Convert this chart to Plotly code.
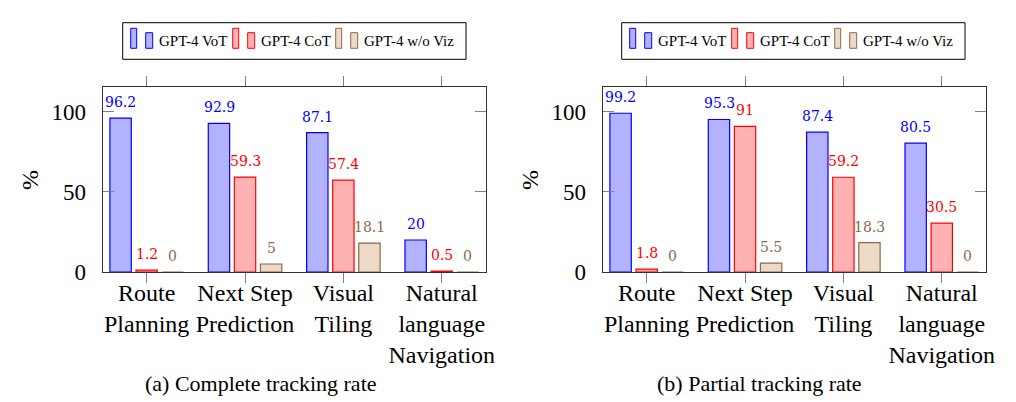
import plotly.graph_objects as go

categories = ["Route<br>Planning", "Next Step<br>Prediction", "Visual<br>Tiling",
              "Natural<br>language<br>Navigation"]
series_names = ["GPT-4 VoT", "GPT-4 CoT", "GPT-4 w/o Viz"]

complete_vot = [96.2, 92.9, 87.1, 20]
complete_cot = [1.2, 59.3, 57.4, 0.5]
complete_noviz = [0, 5, 18.1, 0]

partial_vot = [99.2, 95.3, 87.4, 80.5]
partial_cot = [1.8, 91, 59.2, 30.5]
partial_noviz = [0, 5.5, 18.3, 0]

captions = ["(a) Complete tracking rate", "(b) Partial tracking rate"]
y_ticks = [0, 50, 100]

fills = ["rgb(178,178,255)", "rgb(255,178,178)", "rgb(236,217,198)"]
lines = ["rgb(0,0,255)", "rgb(255,0,0)", "rgb(140,105,75)"]

SERIF = "Liberation Serif"
PAGE_OFF = 8          # browser body margin
W, H = 1016 - PAGE_OFF, 402 - PAGE_OFF


def px(x):
    return (x - PAGE_OFF) / W


def py(y):
    return 1 - (y - PAGE_OFF) / H


fig = go.Figure()

panels = [
    ([complete_vot, complete_cot, complete_noviz], "x", "y"),
    ([partial_vot, partial_cot, partial_noviz], "x2", "y2"),
]
BAR_STEP = 26  # px between bar centres within a group
for vals, xa, ya in panels:
    for k, v in enumerate(vals):
        fig.add_trace(go.Bar(
            x=categories, y=v, name=series_names[k], xaxis=xa, yaxis=ya,
            showlegend=False,
            marker=dict(color=fills[k], line=dict(color=lines[k], width=1.2)),
        ))
        for c, val in zip(categories, v):
            fig.add_annotation(x=c, y=val, xref=xa, yref=ya, text=f"{val:g}",
                               showarrow=False, xanchor="center", yanchor="bottom",
                               xshift=(k - 1) * BAR_STEP, yshift=6,
                               font=dict(family="DejaVu Serif", size=14, color=lines[k]))

frame = "rgb(50,50,50)"
tickc = "rgb(130,130,130)"
YDOM = [py(272), py(87)]


def xaxis(domain, anchor):
    return dict(domain=domain, anchor=anchor, range=[-0.447, 3.447],
                showline=True, linecolor=frame, linewidth=1, mirror="ticks",
                ticks="outside", ticklen=10, tickcolor=tickc, tickwidth=1,
                tickfont=dict(family=SERIF, size=24, color="black"),
                ticklabelstandoff=-11, automargin=False,
                showgrid=False, zeroline=False, fixedrange=True)


def yaxis(anchor):
    return dict(domain=YDOM, anchor=anchor, range=[0, 115.6],
                tickvals=y_ticks, showline=True, linecolor=frame, linewidth=1,
                mirror="ticks", ticks="inside", ticklen=11, tickcolor=tickc,
                tickwidth=1, tickfont=dict(family=SERIF, size=23, color="black"),
                ticklabelstandoff=11, automargin=False,
                showgrid=False, zeroline=False)


fig.update_layout(
    width=W, height=H, margin=dict(l=0, r=0, t=0, b=0),
    paper_bgcolor="white", plot_bgcolor="white",
    barmode="group", bargap=0.205, bargroupgap=0.18,
    xaxis=xaxis([px(102.7), px(485.7)], "y"),
    yaxis=yaxis("x"),
    xaxis2=xaxis([px(602.7), px(985.7)], "y2"),
    yaxis2=yaxis("x2"),
    showlegend=False,
)

# Legend boxes (drawn as in the original pgfplots legend)
for off in [0, 499]:
    fig.add_shape(type="rect", xref="paper", yref="paper",
                  x0=px(122.7 + off), x1=px(466 + off), y0=py(59.3), y1=py(22.7),
                  line=dict(color="black", width=1), fillcolor="white", layer="above")
    for k, bx in enumerate([130.7, 232.7, 335.7]):
        bx += off
        fig.add_shape(type="rect", xref="paper", yref="paper",
                      x0=px(bx), x1=px(bx + 6), y0=py(48.3), y1=py(28.3),
                      line=dict(color=lines[k], width=1), fillcolor=fills[k], layer="above")
        fig.add_shape(type="rect", xref="paper", yref="paper",
                      x0=px(bx + 15), x1=px(bx + 22), y0=py(48.3), y1=py(32.7),
                      line=dict(color=lines[k], width=1), fillcolor=fills[k], layer="above")
        fig.add_annotation(x=px(bx + 26), y=py(40.5), xref="paper", yref="paper",
                           text=series_names[k], showarrow=False, xanchor="left",
                           yanchor="middle",
                           font=dict(family=SERIF, size=15, color="black"))

for cx, cap in zip([260.5, 759], captions):
    fig.add_annotation(x=px(cx), y=py(383), xref="paper", yref="paper", text=cap,
                       showarrow=False, font=dict(family=SERIF, size=22, color="black"),
                       xanchor="center", yanchor="middle")
for pxx in [30, 530]:
    fig.add_annotation(x=px(pxx), y=py(180), xref="paper", yref="paper", text="%",
                       textangle=-90, showarrow=False,
                       font=dict(family=SERIF, size=24, color="black"),
                       xanchor="center", yanchor="middle")

fig.write_html("out.html")
